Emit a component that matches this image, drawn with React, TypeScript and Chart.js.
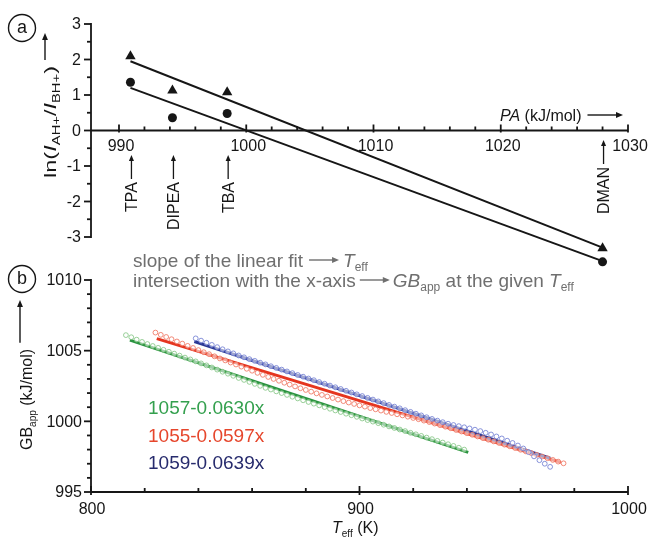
import React, { useEffect, useRef } from "react";
import { Chart, registerables } from "chart.js";

Chart.register(...registerables);

const FONT = '"Liberation Sans", Arial, Helvetica, sans-serif';
const INK = "#161616";
const GREY = "#6f6f6f";

// ---------- Panel (a) data ----------
const baseNames = ["TPA", "DIPEA", "TBA", "DMAN"];
const protonAffinity = [990.9, 994.2, 998.5, 1028.0];
const lnTriangle = [2.09, 1.13, 1.08, -3.32];
const lnCircle = [1.36, 0.36, 0.48, -3.7];
const fitTrianglePA = [990.9, 1028.0];
const fitTriangleLn = [1.95, -3.3];
const fitCirclePA = [990.9, 1028.0];
const fitCircleLn = [1.2, -3.68];
const paTickLabels = [990, 1000, 1010, 1020, 1030];
const lnTickLabels = [3, 2, 1, 0, -1, -2, -3];

// ---------- Panel (b) data ----------
const teffTickLabels = [800, 900, 1000];
const gbTickLabels = [1010, 1005, 1000, 995];
const equations = ["1057-0.0630x", "1055-0.0597x", "1059-0.0639x"];

const tGreen = [813, 815, 817, 819, 821, 823, 825, 827, 829, 831, 833, 835, 837, 839, 841, 843, 845, 847, 849, 851, 853, 855, 857, 859, 861, 863, 865, 867, 869, 871, 873, 875, 877, 879, 881, 883, 885, 887, 889, 891, 893, 895, 897, 899, 901, 903, 905, 907, 909, 911, 913, 915, 917, 919, 921, 923, 925, 927, 929, 931, 933, 935, 937, 939];
const gbGreen = [1006.1, 1005.95, 1005.78, 1005.62, 1005.47, 1005.33, 1005.2, 1005.06, 1004.92, 1004.79, 1004.65, 1004.51, 1004.38, 1004.24, 1004.1, 1003.96, 1003.81, 1003.66, 1003.51, 1003.37, 1003.22, 1003.07, 1002.93, 1002.79, 1002.65, 1002.51, 1002.37, 1002.25, 1002.12, 1002.0, 1001.87, 1001.74, 1001.62, 1001.49, 1001.37, 1001.25, 1001.13, 1001.01, 1000.89, 1000.77, 1000.66, 1000.54, 1000.43, 1000.32, 1000.2, 1000.09, 999.98, 999.87, 999.76, 999.64, 999.53, 999.42, 999.31, 999.19, 999.08, 998.97, 998.85, 998.74, 998.62, 998.5, 998.38, 998.26, 998.13, 998.0];

const tRed = [824, 826, 828, 830, 832, 834, 836, 838, 840, 842, 844, 846, 848, 850, 852, 854, 856, 858, 860, 862, 864, 866, 868, 870, 872, 874, 876, 878, 880, 882, 884, 886, 888, 890, 892, 894, 896, 898, 900, 902, 904, 906, 908, 910, 912, 914, 916, 918, 920, 922, 924, 926, 928, 930, 932, 934, 936, 938, 940, 942, 944, 946, 948, 950, 952, 954, 956, 958, 960, 962, 964, 966, 968, 970, 972, 974, 976];
const gbRed = [1006.28, 1006.12, 1005.97, 1005.81, 1005.65, 1005.5, 1005.34, 1005.19, 1005.04, 1004.89, 1004.75, 1004.6, 1004.45, 1004.31, 1004.16, 1004.02, 1003.87, 1003.72, 1003.58, 1003.43, 1003.29, 1003.14, 1003.0, 1002.87, 1002.73, 1002.6, 1002.47, 1002.34, 1002.22, 1002.1, 1001.98, 1001.87, 1001.76, 1001.65, 1001.54, 1001.43, 1001.33, 1001.23, 1001.13, 1001.04, 1000.94, 1000.85, 1000.76, 1000.67, 1000.59, 1000.5, 1000.42, 1000.33, 1000.24, 1000.15, 1000.05, 999.95, 999.84, 999.73, 999.62, 999.51, 999.39, 999.28, 999.16, 999.05, 998.93, 998.81, 998.7, 998.58, 998.47, 998.35, 998.23, 998.11, 997.99, 997.87, 997.75, 997.63, 997.51, 997.39, 997.27, 997.15, 997.03];

const tBlue = [839, 841, 843, 845, 847, 849, 851, 853, 855, 857, 859, 861, 863, 865, 867, 869, 871, 873, 875, 877, 879, 881, 883, 885, 887, 889, 891, 893, 895, 897, 899, 901, 903, 905, 907, 909, 911, 913, 915, 917, 919, 921, 923, 925, 927, 929, 931, 933, 935, 937, 939, 941, 943, 945, 947, 949, 951, 953, 955, 957, 959, 961, 963, 965, 967, 969, 971];
const gbBlue = [1005.87, 1005.71, 1005.56, 1005.41, 1005.25, 1005.1, 1004.95, 1004.81, 1004.66, 1004.53, 1004.4, 1004.28, 1004.15, 1004.03, 1003.9, 1003.78, 1003.66, 1003.53, 1003.41, 1003.28, 1003.16, 1003.03, 1002.91, 1002.78, 1002.66, 1002.53, 1002.41, 1002.29, 1002.16, 1002.04, 1001.91, 1001.79, 1001.66, 1001.54, 1001.41, 1001.29, 1001.16, 1001.04, 1000.92, 1000.79, 1000.67, 1000.54, 1000.42, 1000.29, 1000.17, 1000.05, 999.94, 999.83, 999.74, 999.66, 999.58, 999.5, 999.41, 999.31, 999.19, 999.07, 998.93, 998.79, 998.63, 998.47, 998.29, 998.08, 997.82, 997.52, 997.25, 997.0, 996.78];

const fitGreenT = [814.5, 940.5];
const fitGreenGB = [1005.75, 997.8];
const fitRedT = [824.5, 975.0];
const fitRedGB = [1005.85, 997.1];
const fitBlueT = [838.5, 971.0];
const fitBlueGB = [1005.65, 997.4];

const GREEN = "#2a9340";
const RED = "#e5351f";
const BLUE = "#2b3894";
const EQ_COLORS = ["#34a04e", "#e6462c", "#272b6d"];

const pts = (xs: number[], ys: number[]) => xs.map((x, i) => ({ x, y: ys[i] }));

type Run = { text: string; size: number; italic?: boolean; dy?: number };

function runsWidth(ctx: CanvasRenderingContext2D, runs: Run[]) {
  let w = 0;
  for (const r of runs) {
    ctx.font = `${r.italic ? "italic " : ""}${r.size}px ${FONT}`;
    w += ctx.measureText(r.text).width;
  }
  return w;
}

function drawRuns(ctx: CanvasRenderingContext2D, x: number, y: number, runs: Run[]) {
  let cx = x;
  ctx.textAlign = "left";
  ctx.textBaseline = "alphabetic";
  for (const r of runs) {
    ctx.font = `${r.italic ? "italic " : ""}${r.size}px ${FONT}`;
    ctx.fillText(r.text, cx, y + (r.dy || 0));
    cx += ctx.measureText(r.text).width;
  }
  return cx;
}

function seg(ctx: CanvasRenderingContext2D, x1: number, y1: number, x2: number, y2: number) {
  ctx.beginPath();
  ctx.moveTo(x1, y1);
  ctx.lineTo(x2, y2);
  ctx.stroke();
}

function arrow(ctx: CanvasRenderingContext2D, x1: number, y1: number, x2: number, y2: number, head = 7, width = 1.4) {
  const ang = Math.atan2(y2 - y1, x2 - x1);
  const bx = x2 - head * Math.cos(ang);
  const by = y2 - head * Math.sin(ang);
  ctx.lineWidth = width;
  seg(ctx, x1, y1, bx + Math.cos(ang), by + Math.sin(ang));
  const hw = head * 0.42;
  ctx.beginPath();
  ctx.moveTo(x2, y2);
  ctx.lineTo(bx + hw * Math.sin(ang), by - hw * Math.cos(ang));
  ctx.lineTo(bx - hw * Math.sin(ang), by + hw * Math.cos(ang));
  ctx.closePath();
  ctx.fill();
}

function panelBadge(ctx: CanvasRenderingContext2D, cx: number, cy: number, letter: string) {
  ctx.save();
  ctx.strokeStyle = INK;
  ctx.fillStyle = INK;
  ctx.lineWidth = 1.4;
  ctx.beginPath();
  ctx.arc(cx, cy, 13.5, 0, Math.PI * 2);
  ctx.stroke();
  ctx.font = `18px ${FONT}`;
  ctx.textAlign = "center";
  ctx.textBaseline = "middle";
  ctx.fillText(letter, cx, cy);
  ctx.restore();
}

const panelAPlugin = {
  id: "panelA",
  afterDraw(chart: any) {
    const { ctx } = chart;
    const xs = chart.scales.x;
    const ys = chart.scales.y;
    ctx.save();
    ctx.strokeStyle = INK;
    ctx.fillStyle = INK;
    ctx.lineWidth = 1.8;
    const ax = xs.left;
    const yTop = ys.getPixelForValue(3);
    const yBot = ys.getPixelForValue(-3);
    seg(ctx, ax, yTop - 1, ax, yBot + 1);
    for (let k = -6; k <= 6; k++) {
      const py = ys.getPixelForValue(k / 2);
      const major = k % 2 === 0;
      seg(ctx, ax - (major ? 7 : 4), py, ax, py);
    }
    const y0 = ys.getPixelForValue(0);
    seg(ctx, xs.left, y0, xs.right, y0);
    for (let v = 990; v <= 1030; v += 2) {
      const px = xs.getPixelForValue(v);
      const major = v % 10 === 0;
      seg(ctx, px, y0 - (major ? 6 : 4), px, y0 + (major ? 2 : 0));
    }
    ctx.font = `16px ${FONT}`;
    ctx.textAlign = "right";
    ctx.textBaseline = "middle";
    lnTickLabels.forEach((v) => ctx.fillText(String(v), ax - 10, ys.getPixelForValue(v) + 1));
    ctx.textAlign = "center";
    paTickLabels.forEach((v) => ctx.fillText(String(v), xs.getPixelForValue(v) + 2, y0 + 16));

    // rotated base labels with arrows
    const ends = [182, 182, 182, 167];
    baseNames.forEach((name, i) => {
      const px = xs.getPixelForValue(protonAffinity[i]);
      ctx.font = `16px ${FONT}`;
      const w = ctx.measureText(name).width;
      ctx.save();
      ctx.translate(px + 1, ends[i] + w);
      ctx.rotate(-Math.PI / 2);
      ctx.textAlign = "left";
      ctx.textBaseline = "middle";
      ctx.fillText(name, 0, 1);
      ctx.restore();
      arrow(ctx, px + 1, ends[i] - 3, px + 1, ends[i] - 27, 6, 1.3);
    });

    // PA axis title
    const pEnd = drawRuns(ctx, 500, 121, [
      { text: "PA", size: 16, italic: true },
      { text: " (kJ/mol)", size: 16 },
    ]);
    arrow(ctx, pEnd + 6, 115, 623, 115, 7, 1.4);

    // y title (rotated)
    const yRuns: Run[] = [
      { text: "ln(", size: 16 },
      { text: "I", size: 16, italic: true },
      { text: "AH+", size: 10, dy: 4 },
      { text: "/", size: 16 },
      { text: "I", size: 16, italic: true },
      { text: "BH+", size: 10, dy: 4 },
      { text: ")", size: 16 },
    ];
    const tw = runsWidth(ctx, yRuns);
    const target = 112;
    ctx.save();
    ctx.translate(50, 178);
    ctx.rotate(-Math.PI / 2);
    ctx.scale(target / tw, 1);
    drawRuns(ctx, 0, 6, yRuns);
    ctx.restore();
    arrow(ctx, 45, 178 - target - 6, 45, 33, 7, 1.4);

    panelBadge(ctx, 22, 28, "a");

    // grey explanatory text
    ctx.fillStyle = GREY;
    ctx.strokeStyle = GREY;
    const e1 = drawRuns(ctx, 133, 267, [{ text: "slope of the linear fit", size: 19 }]);
    arrow(ctx, e1 + 6, 260, e1 + 36, 260, 7, 1.4);
    drawRuns(ctx, e1 + 40, 267, [
      { text: "T", size: 19, italic: true },
      { text: "eff", size: 12, dy: 4 },
    ]);
    const e2 = drawRuns(ctx, 133, 287, [{ text: "intersection with the x-axis", size: 19 }]);
    arrow(ctx, e2 + 4, 280, e2 + 34, 280, 7, 1.4);
    drawRuns(ctx, e2 + 37, 287, [
      { text: "GB", size: 19, italic: true },
      { text: "app", size: 12, dy: 4 },
      { text: " at the given ", size: 19 },
      { text: "T", size: 19, italic: true },
      { text: "eff", size: 12, dy: 4 },
    ]);
    ctx.restore();
  },
};

const panelBPlugin = {
  id: "panelB",
  afterDraw(chart: any) {
    const { ctx } = chart;
    const xs = chart.scales.x;
    const ys = chart.scales.y;
    ctx.save();
    ctx.strokeStyle = INK;
    ctx.fillStyle = INK;
    ctx.lineWidth = 1.8;
    const ax = xs.left;
    const ay = ys.getPixelForValue(995);
    seg(ctx, ax, ys.getPixelForValue(1010) - 1, ax, ay + 1);
    for (let v = 995; v <= 1010; v++) {
      const py = ys.getPixelForValue(v);
      const major = v % 5 === 0;
      seg(ctx, ax - (major ? 7 : 4), py, ax, py);
    }
    seg(ctx, ax - 1, ay, xs.right, ay);
    for (let v = 800; v <= 1000; v += 20) {
      const px = xs.getPixelForValue(v);
      const major = v % 100 === 0;
      seg(ctx, px, ay - (major ? 6 : 4), px, ay + (major ? 3 : 1));
    }
    ctx.font = `16px ${FONT}`;
    ctx.textAlign = "right";
    ctx.textBaseline = "middle";
    gbTickLabels.forEach((v) => ctx.fillText(String(v), ax - 9, ys.getPixelForValue(v) + 1));
    ctx.textAlign = "center";
    teffTickLabels.forEach((v) => ctx.fillText(String(v), xs.getPixelForValue(v) + 1, ay + 18));

    // x title
    drawRuns(ctx, 332, 533, [
      { text: "T", size: 16, italic: true },
      { text: "eff", size: 10, dy: 4 },
      { text: " (K)", size: 16 },
    ]);

    // y title rotated
    const yRuns: Run[] = [
      { text: "GB", size: 16 },
      { text: "app", size: 10, dy: 4 },
      { text: " (kJ/mol)", size: 16 },
    ];
    const tw = runsWidth(ctx, yRuns);
    ctx.save();
    ctx.translate(26, 450);
    ctx.rotate(-Math.PI / 2);
    drawRuns(ctx, 0, 6, yRuns);
    ctx.restore();
    arrow(ctx, 20, 450 - tw - 6, 20, 300, 7, 1.4);

    // equations
    const base = [414, 442, 469];
    equations.forEach((eq, i) => {
      ctx.fillStyle = EQ_COLORS[i];
      drawRuns(ctx, 148, base[i], [{ text: eq, size: 19 }]);
    });

    panelBadge(ctx, 22, 279, "b");
    ctx.restore();
  },
};

function useChart(build: (canvas: HTMLCanvasElement) => Chart) {
  const ref = useRef<HTMLCanvasElement | null>(null);
  useEffect(() => {
    if (!ref.current) return;
    const chart = build(ref.current);
    return () => chart.destroy();
  }, []);
  return ref;
}

const baseOptions = (padding: any, xr: [number, number], yr: [number, number]) => ({
  responsive: false,
  animation: false as const,
  devicePixelRatio: 1,
  events: [] as any[],
  layout: { padding },
  plugins: { legend: { display: false }, tooltip: { enabled: false } },
  scales: {
    x: { type: "linear" as const, min: xr[0], max: xr[1], display: false },
    y: { type: "linear" as const, min: yr[0], max: yr[1], display: false },
  },
});

export default function App() {
  const refA = useChart(
    (canvas) =>
      new Chart(canvas, {
        type: "scatter",
        data: {
          datasets: [
            {
              data: pts(protonAffinity, lnTriangle),
              pointStyle: "triangle",
              pointRadius: 6,
              backgroundColor: INK,
              borderColor: INK,
              borderWidth: 0,
              clip: false,
            } as any,
            {
              data: pts(protonAffinity, lnCircle),
              pointStyle: "circle",
              pointRadius: 4.5,
              backgroundColor: INK,
              borderColor: INK,
              borderWidth: 0,
              clip: false,
            },
            {
              data: pts(fitTrianglePA, fitTriangleLn),
              showLine: true,
              borderColor: INK,
              borderWidth: 2,
              pointRadius: 0,
              clip: false,
            },
            {
              data: pts(fitCirclePA, fitCircleLn),
              showLine: true,
              borderColor: INK,
              borderWidth: 2,
              pointRadius: 0,
              clip: false,
            },
          ],
        },
        // y range extended below -3 so the DMAN markers sit inside the plot area
        options: baseOptions({ left: 91, right: 25, top: 24, bottom: 265.5 }, [987.8, 1030], [-4, 3]) as any,
        plugins: [panelAPlugin],
      })
  );

  const refB = useChart(
    (canvas) =>
      new Chart(canvas, {
        type: "scatter",
        data: {
          datasets: [
            {
              data: pts(tBlue, gbBlue),
              pointRadius: 2.4,
              borderWidth: 1,
              borderColor: "rgba(115,128,212,0.85)",
              backgroundColor: "rgba(255,255,255,0.55)",
              order: 0,
              clip: false,
            } as any,
            {
              data: pts(tRed, gbRed),
              pointRadius: 2.4,
              borderWidth: 1,
              borderColor: "rgba(240,118,98,0.85)",
              backgroundColor: "rgba(255,255,255,0.55)",
              order: 0,
              clip: false,
            },
            {
              data: pts(tGreen, gbGreen),
              pointRadius: 2.4,
              borderWidth: 1,
              borderColor: "rgba(120,192,120,0.75)",
              backgroundColor: "rgba(255,255,255,0.55)",
              order: 0,
              clip: false,
            },
            {
              data: pts(fitBlueT, fitBlueGB),
              showLine: true,
              borderColor: BLUE,
              borderWidth: 3,
              pointRadius: 0,
              order: 1,
            },
            {
              data: pts(fitRedT, fitRedGB),
              showLine: true,
              borderColor: RED,
              borderWidth: 3,
              pointRadius: 0,
              order: 1,
            },
            {
              data: pts(fitGreenT, fitGreenGB),
              showLine: true,
              borderColor: GREEN,
              borderWidth: 3,
              pointRadius: 0,
              order: 1,
            },
          ],
        },
        options: baseOptions({ left: 91, right: 25, top: 280, bottom: 46 }, [800, 1000], [995, 1010]) as any,
        plugins: [panelBPlugin],
      })
  );

  const cstyle: React.CSSProperties = { position: "absolute", left: 0, top: 0, width: 653, height: 538 };
  return (
    <div style={{ position: "absolute", left: 0, top: 0, width: 653, height: 538, background: "#fff" }}>
      <canvas ref={refB} width={653} height={538} style={cstyle} />
      <canvas ref={refA} width={653} height={538} style={cstyle} />
    </div>
  );
}
